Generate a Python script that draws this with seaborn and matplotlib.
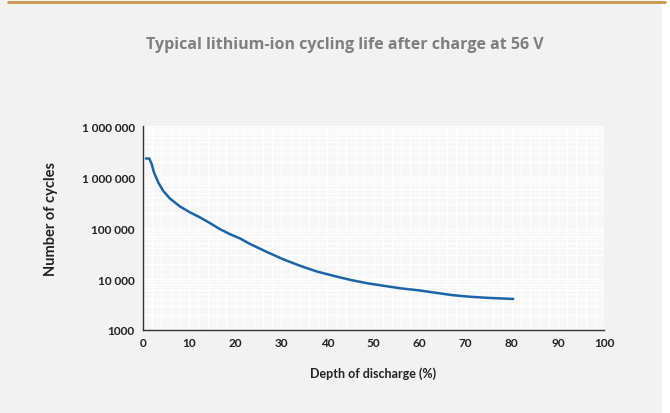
import numpy as np
import pandas as pd
import matplotlib
matplotlib.use("Agg")
import matplotlib.pyplot as plt
import seaborn as sns
from matplotlib.ticker import FixedLocator, FixedFormatter, MultipleLocator, LogLocator, NullFormatter
from matplotlib.lines import Line2D

# ---- data ----
depth = [0.65, 1.37, 1.89, 2.39, 3.32, 4.40, 5.86, 8.03, 10.2, 12.4, 14.5, 16.7,
         18.9, 21.0, 23.2, 26.8, 30.4, 34.1, 37.7, 41.3, 44.9, 48.5, 52.1, 55.7,
         59.7, 63.7, 67.0, 70.9, 75.0, 80.3]
cycles = [2.33e6, 2.33e6, 1.80e6, 1.23e6, 7.87e5, 5.37e5, 3.80e5, 2.66e5, 2.04e5,
          1.62e5, 1.26e5, 9.55e4, 7.59e4, 6.31e4, 4.90e4, 3.43e4, 2.45e4, 1.82e4,
          1.41e4, 1.16e4, 9680, 8320, 7410, 6610, 6030, 5350, 4850, 4500, 4270, 4070]
y_tick_values = [1e3, 1e4, 1e5, 1e6, 1e7]
y_tick_labels = ["1000", "10 000", "100 000", "1 000 000", "1 000 000"]
x_tick_values = [0, 10, 20, 30, 40, 50, 60, 70, 80, 90, 100]
title = "Typical lithium-ion cycling life after charge at 56 V"
x_label = "Depth of discharge (%)"
y_label = "Number of cycles"

df = pd.DataFrame({"depth": depth, "cycles": cycles})

sns.set_theme(style="white")
plt.rcParams["font.family"] = ["Lato", "DejaVu Sans"]

fig = plt.figure(figsize=(6.7, 4.14), dpi=100)
fig.patch.set_facecolor("#f2f2f2")
# white strip at right edge
fig.add_artist(plt.Rectangle((662 / 670, 0), 8 / 670, 1, transform=fig.transFigure,
                             color="white", zorder=0))
# gold top rule
fig.add_artist(Line2D([8 / 670, 665 / 670], [1 - 2.5 / 414, 1 - 2.5 / 414],
                      transform=fig.transFigure, color="#c9974c", lw=2))

ax = fig.add_axes([143 / 670, 1 - 331 / 414, (604 - 143) / 670, (331 - 127.3) / 414])
ax.set_facecolor("#f7f7f7")

sns.lineplot(data=df, x="depth", y="cycles", ax=ax, color="#1b65a8", lw=1.8)
for l in ax.get_lines():
    l.set_solid_joinstyle("round")
    l.set_solid_capstyle("round")

ax.set_yscale("log")
ax.set_ylim(1e3, 1e7)
ax.set_xlim(0, 100)

ax.yaxis.set_major_locator(FixedLocator(y_tick_values))
ax.yaxis.set_major_formatter(FixedFormatter(y_tick_labels))
ax.yaxis.set_minor_locator(LogLocator(base=10, subs=np.arange(2, 10)))
ax.yaxis.set_minor_formatter(NullFormatter())
ax.xaxis.set_major_locator(FixedLocator(x_tick_values))
ax.xaxis.set_minor_locator(MultipleLocator(2))

ax.grid(True, which="both", color="white", lw=0.9)
ax.set_axisbelow(True)

for s in ["top", "right"]:
    ax.spines[s].set_visible(False)
for s in ["left", "bottom"]:
    ax.spines[s].set_color("#333333")
    ax.spines[s].set_linewidth(1.0)

ax.tick_params(axis="x", which="major", direction="inout", length=6, width=1,
               color="#333333", labelsize=8.5, labelcolor="#222222", pad=2)
ax.tick_params(axis="x", which="minor", direction="in", length=3, width=0.8,
               color="#333333")
ax.tick_params(axis="y", which="major", direction="out", length=4, width=1,
               color="#333333", labelsize=8.5, labelcolor="#222222", pad=2)
ax.tick_params(axis="y", which="minor", length=0)
for lab in ax.get_xticklabels() + ax.get_yticklabels():
    lab.set_fontweight("bold")

ax.set_xlabel(x_label, fontsize=9, color="#222222", labelpad=13, fontweight="bold")
ax.set_ylabel(y_label, fontsize=10.5, color="#222222", fontweight="bold")
ax.yaxis.set_label_coords((58 - 143) / (604 - 143), (331 - 219) / (331 - 127.3))

fig.text(345 / 670, 1 - 45 / 414, title, ha="center", va="center", fontsize=11.5,
         color="#7f7f7f", fontweight="bold", family=["Open Sans", "DejaVu Sans"])

fig.savefig("out.png", dpi=100, facecolor=fig.get_facecolor())
